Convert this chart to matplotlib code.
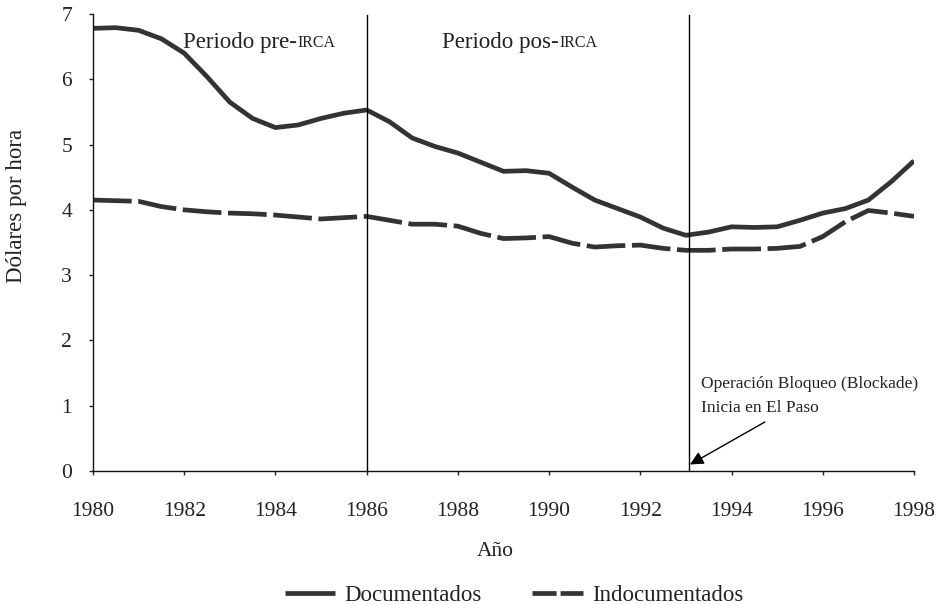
import numpy as np
import matplotlib
matplotlib.use("Agg")
from matplotlib import pyplot as plt
from matplotlib.lines import Line2D

plt.rcParams["font.family"] = ["Liberation Serif", "DejaVu Serif"]

# valores (cada medio año)
anios = [1980, 1980.5, 1981, 1981.5, 1982, 1982.5, 1983, 1983.5, 1984, 1984.5,
         1985, 1985.5, 1986, 1986.5, 1987, 1987.5, 1988, 1988.5, 1989, 1989.5,
         1990, 1990.5, 1991, 1991.5, 1992, 1992.5, 1993, 1993.5, 1994, 1994.5,
         1995, 1995.5, 1996, 1996.5, 1997, 1997.5, 1998]
documentados = [6.78, 6.79, 6.75, 6.62, 6.40, 6.04, 5.65, 5.40, 5.26, 5.30,
                5.40, 5.48, 5.53, 5.35, 5.10, 4.97, 4.87, 4.73, 4.59, 4.60,
                4.56, 4.35, 4.15, 4.02, 3.89, 3.72, 3.61, 3.66, 3.74, 3.73,
                3.74, 3.84, 3.95, 4.02, 4.15, 4.43, 4.75]
indocumentados = [4.15, 4.14, 4.13, 4.05, 4.00, 3.97, 3.95, 3.94, 3.92, 3.89,
                  3.86, 3.88, 3.90, 3.84, 3.78, 3.78, 3.75, 3.64, 3.56, 3.57,
                  3.59, 3.49, 3.43, 3.45, 3.46, 3.41, 3.38, 3.38, 3.40, 3.40,
                  3.41, 3.44, 3.59, 3.82, 3.99, 3.95, 3.90]

anio_irca = 1986
anio_bloqueo = 1993.07
xticks = [1980, 1982, 1984, 1986, 1988, 1990, 1992, 1994, 1996, 1998]
yticks = [0, 1, 2, 3, 4, 5, 6, 7]

color = "#333333"
texto = "#222222"

fig = plt.figure(figsize=(9.38, 6.05), dpi=100)
ax = fig.add_axes([0.0991, 0.2215, 0.8753, 0.7554])

ax.plot(anios, documentados, color=color, lw=3.4, solid_capstyle="butt")
ax.plot(anios, indocumentados, color=color, lw=3.4, dashes=(8.2, 1.4),
        dash_capstyle="butt")

ax.axvline(anio_irca, ymax=0.997, color="black", lw=1)
ax.axvline(anio_bloqueo, ymax=0.997, color="black", lw=1)

ax.set_xlim(1980, 1998)
ax.set_ylim(0, 7)
ax.set_xticks(xticks)
ax.set_yticks(yticks)
ax.tick_params(axis="x", direction="out", length=3, width=1, pad=19,
               labelsize=15.5, colors=texto)
ax.tick_params(axis="y", direction="out", length=3, width=1, pad=12,
               labelsize=15.5, colors=texto)
for s in ["top", "right"]:
    ax.spines[s].set_visible(False)
for s in ["left", "bottom"]:
    ax.spines[s].set_linewidth(1)
    ax.spines[s].set_color("#111111")

# etiquetas de periodo (IRCA en versalitas)
t1 = ax.text(1981.97, 6.48, "Periodo pre-", fontsize=16.5, color=texto,
             va="baseline", ha="left")
ax.annotate("IRCA", xy=(1, 0), xycoords=t1, xytext=(0.3, 1.2),
            textcoords="offset points", fontsize=11.5, color=texto,
            va="bottom", ha="left")
t2 = ax.text(1987.65, 6.48, "Periodo pos-", fontsize=16.5, color=texto,
             va="baseline", ha="left")
ax.annotate("IRCA", xy=(1, 0), xycoords=t2, xytext=(0.3, 1.2),
            textcoords="offset points", fontsize=11.5, color=texto,
            va="bottom", ha="left")

# anotación de la Operación Bloqueo
ax.text(1993.33, 1.33, "Operación Bloqueo (Blockade)", fontsize=12.5,
        color=texto, va="center", ha="left")
ax.text(1993.33, 0.96, "Inicia en El Paso", fontsize=12.5,
        color=texto, va="center", ha="left")
ax.annotate("", xy=(anio_bloqueo + 0.02, 0.1), xytext=(1994.73, 0.75),
            arrowprops=dict(arrowstyle="-|>", mutation_scale=20, lw=1,
                            color="black", shrinkA=0, shrinkB=0))

fig.text(17 / 938, 1 - 206 / 605, "Dólares por hora", rotation=90,
         fontsize=16.5, color=texto, ha="center", va="center")
fig.text(495 / 938, 1 - 552 / 605, "Año", fontsize=15.5, color=texto,
         ha="center", va="center")

h1 = Line2D([], [], color=color, lw=3.4, solid_capstyle="butt")
h2 = Line2D([], [], color=color, lw=3.4, dashes=(5.1, 0.85),
            dash_capstyle="butt")
fig.legend([h1, h2], ["Documentados", "Indocumentados"], loc="center",
           bbox_to_anchor=(514 / 938, 1 - 595 / 605), ncol=2, frameon=False,
           fontsize=16.5, handlelength=2.2, handletextpad=0.4,
           columnspacing=2.2, borderpad=0, labelcolor=texto)

fig.savefig("out.png", dpi=100)
